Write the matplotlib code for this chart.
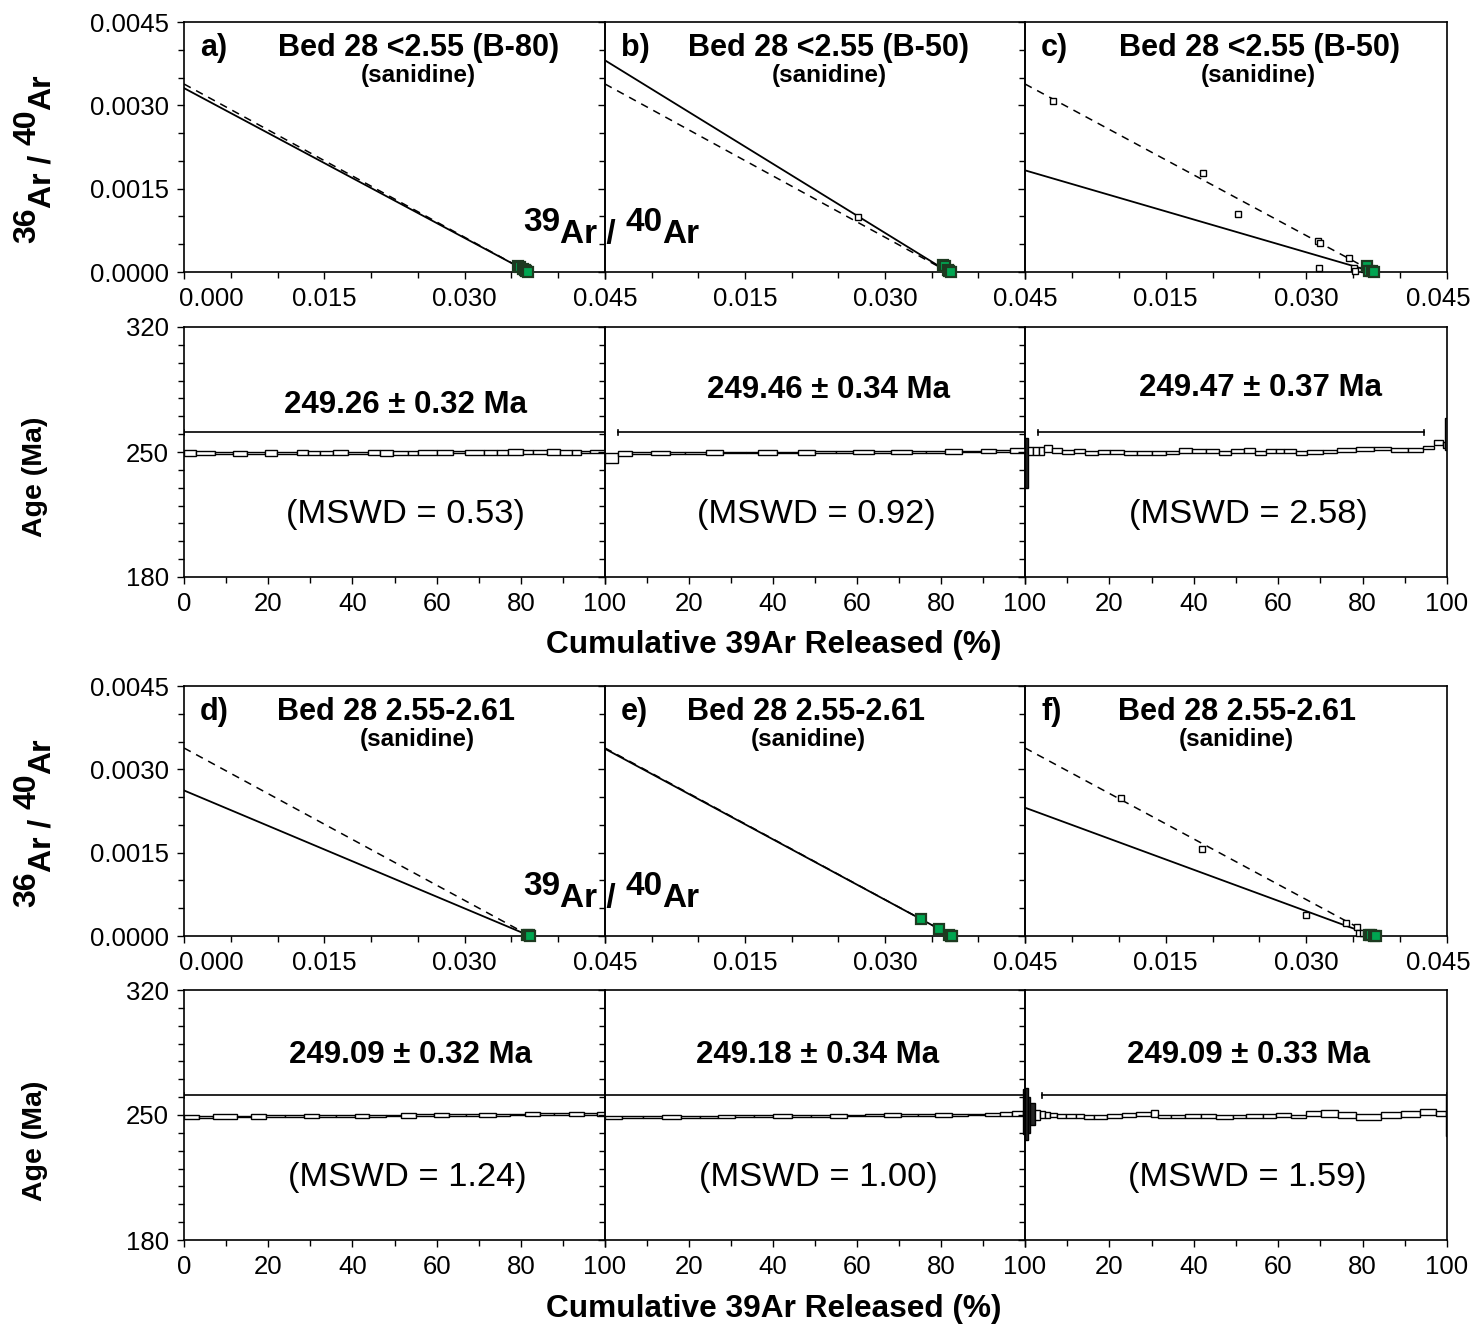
import matplotlib as mpl
import matplotlib.pyplot as plt
from matplotlib.patches import Rectangle
from matplotlib.text import Annotation
from matplotlib.ticker import MultipleLocator
from matplotlib.transforms import ScaledTranslation

mpl.rcParams['font.family'] = ['Liberation Sans', 'DejaVu Sans']

panel_tags = ['a)', 'b)', 'c)', 'd)', 'e)', 'f)']
sample_names = ['Bed 28 <2.55 (B-80)', 'Bed 28 <2.55 (B-50)', 'Bed 28 <2.55 (B-50)',
                'Bed 28 2.55-2.61', 'Bed 28 2.55-2.61', 'Bed 28 2.55-2.61']
mineral = '(sanidine)'

plateau_age = [249.26, 249.46, 249.47, 249.09, 249.18, 249.09]
plateau_err = [0.32, 0.34, 0.37, 0.32, 0.34, 0.33]
mswd = [0.53, 0.92, 2.58, 1.24, 1.00, 1.59]
plateau_start = [0.0, 3.1, 3.1, 0.0, 0.0, 4.0]
plateau_end = [100.0, 100.0, 94.5, 100.0, 100.0, 100.0]

# isochron fits: trapped 36Ar/40Ar intercept and 39Ar/40Ar intercept
trapped_36_40 = [0.00331, 0.00381, 0.00183, 0.00262, 0.00337, 0.00231]
rad_39_40 = [0.0368, 0.0368, 0.0372, 0.0370, 0.0372, 0.0372]
atm_36_40 = 1 / 295.5

# isochron points: green = plateau steps, open = excluded steps
green_x_a = [0.0357, 0.0359, 0.0362, 0.0364, 0.0366, 0.0368]
green_y_a = [0.00011, 0.00009, 0.00006, 0.00004, 0.00002, 0.0]
open_x_a, open_y_a = [], []

green_x_b = [0.0362, 0.0364, 0.0367, 0.0369, 0.0371]
green_y_b = [0.00013, 0.00010, 0.00003, 0.00001, 0.0]
open_x_b = [0.0271]
open_y_b = [0.00099]

green_x_c = [0.0365, 0.0367, 0.0370, 0.0372]
green_y_c = [0.0001, 0.00002, 0.00001, 0.0]
open_x_c = [0.00295, 0.01897, 0.02269, 0.0312, 0.03146, 0.03131, 0.03457, 0.0351, 0.0352, 0.0362]
open_y_c = [0.00308, 0.00179, 0.00104, 0.00055, 0.00052, 0.00008, 0.00025, 0.00008, 0.00002, 0.00005]

green_x_d = [0.0367, 0.0369, 0.0370]
green_y_d = [0.00002, 0.00001, 0.0]
open_x_d, open_y_d = [], []

green_x_e = [0.03386, 0.03574, 0.0369, 0.0371, 0.0372]
green_y_e = [0.0003, 0.00012, 0.00001, 0.0, 0.0]
open_x_e, open_y_e = [], []

green_x_f = [0.0367, 0.0369, 0.0372, 0.0374]
green_y_f = [0.00002, 0.00001, 0.0, 0.0]
open_x_f = [0.01028, 0.0189, 0.02997, 0.03422, 0.03536, 0.0356, 0.0360, 0.0364]
open_y_f = [0.00248, 0.00157, 0.00038, 0.00023, 0.00017, 0.00005, 0.00005, 0.00004]

# age spectra: cumulative 39Ar step edges (%), step ages and 2 sigma (Ma)
edges_a = [0, 2.8, 7.4, 11.7, 14.9, 19.2, 22.0, 26.8, 29.5, 32.3, 35.5, 38.9, 43.8, 46.6,
           49.7, 53.3, 55.7, 60.0, 64.0, 66.7, 71.3, 74.3, 77.0, 80.6, 83.0, 86.2, 89.3,
           92.1, 94.3, 96.4, 100]
ages_a = [249.2, 249.3, 249.4, 249.4, 249.5, 249.5, 249.5, 249.5, 249.5, 249.5, 249.6,
          249.5, 249.6, 249.6, 249.6, 249.6, 249.8, 249.8, 249.8, 249.7, 249.7, 249.7,
          249.9, 249.9, 249.9, 250.0, 250.0, 250.0, 250.1, 250.2]
errs_a = [1.7, 1.2, 0.5, 1.4, 0.5, 1.5, 0.5, 1.4, 1.3, 1.3, 1.4, 0.5, 1.4, 1.7, 1.1,
          1.1, 1.4, 1.2, 0.5, 1.3, 1.3, 1.3, 1.6, 1.1, 1.1, 1.6, 1.4, 1.4, 0.5, 0.9]

edges_b = [0, 3.1, 6.5, 11.0, 15.5, 19.0, 24.0, 28.0, 33.5, 36.5, 41.0, 46.0, 50.0, 55.0,
           59.0, 64.0, 68.0, 73.0, 76.5, 81.0, 85.0, 89.5, 93.0, 96.5, 100]
ages_b = [246.5, 249.3, 249.4, 249.5, 249.5, 249.6, 249.6, 249.7, 249.7, 249.8, 249.7,
          249.8, 249.9, 249.9, 249.9, 250.0, 250.0, 250.1, 250.1, 250.2, 250.3, 250.4,
          250.6, 250.8]
errs_b = [2.8, 1.5, 0.5, 1.3, 0.5, 0.5, 1.3, 0.5, 0.5, 1.2, 0.5, 1.3, 0.5, 0.5, 1.2,
          0.5, 1.2, 0.5, 0.5, 1.2, 0.5, 1.2, 0.8, 1.3]

edges_c = [0, 0.8, 2.0, 3.2, 4.4, 6.3, 8.7, 11.5, 14.3, 17.4, 20.2, 23.4, 26.5, 30.1, 33.3,
           36.4, 39.6, 42.8, 45.9, 48.7, 51.9, 54.6, 57.0, 59.4, 61.4, 64.1, 66.9, 70.5,
           74.0, 78.4, 82.7, 86.7, 90.7, 94.2, 97.0, 99.0, 99.6, 100]
ages_c = [243.6, 250.7, 250.7, 250.7, 251.8, 250.8, 250.1, 250.3, 249.5, 250.0, 250.1,
          249.3, 249.3, 249.3, 249.8, 250.8, 250.6, 250.3, 249.5, 250.4, 250.8, 249.5,
          250.6, 250.6, 250.6, 249.5, 250.0, 250.2, 250.9, 251.8, 252.0, 251.1, 251.1,
          252.6, 255.3, 253.9, 260.0]
errs_c = [14.0, 2.3, 2.3, 2.3, 2.0, 1.2, 1.3, 1.1, 1.2, 1.1, 1.3, 1.2, 1.2, 1.2, 0.9,
          1.2, 1.0, 1.1, 1.2, 1.2, 1.2, 1.2, 1.0, 1.0, 1.0, 1.2, 1.1, 0.9, 1.1, 1.1,
          0.9, 0.9, 0.9, 0.9, 1.4, 1.9, 9.0]

edges_d = [0, 3.5, 7.0, 12.5, 16.0, 19.5, 24.0, 28.5, 32.0, 36.0, 40.5, 44.0, 48.0, 51.5,
           55.0, 59.5, 63.0, 67.0, 70.0, 74.0, 77.5, 81.0, 84.5, 88.0, 91.5, 95.0, 98.0, 100]
ages_d = [249.0, 249.0, 249.1, 249.2, 249.2, 249.3, 249.3, 249.4, 249.4, 249.5, 249.5,
          249.6, 249.7, 249.8, 249.9, 250.0, 250.1, 250.1, 250.2, 250.2, 250.3, 250.4,
          250.4, 250.5, 250.6, 250.7, 250.7]
errs_d = [1.2, 0.5, 1.2, 0.5, 1.2, 0.5, 0.5, 1.2, 0.5, 0.5, 1.2, 0.5, 0.5, 1.2, 0.5,
          1.2, 0.5, 0.5, 1.2, 0.5, 0.5, 1.2, 0.5, 0.5, 1.2, 0.5, 1.0]

edges_e = [0, 4.0, 9.0, 13.5, 18.0, 22.5, 27.0, 31.0, 35.5, 40.0, 44.5, 49.0, 53.5, 57.5,
           62.0, 66.5, 70.5, 74.5, 78.5, 82.5, 86.5, 90.5, 94.0, 97.0, 99.5, 100]
ages_e = [248.7, 248.8, 248.9, 249.0, 249.1, 249.1, 249.2, 249.3, 249.4, 249.4, 249.5,
          249.6, 249.6, 249.7, 249.8, 249.9, 249.9, 250.0, 250.1, 250.2, 250.3, 250.4,
          250.5, 250.8, 251.7]
errs_e = [1.0, 0.5, 0.5, 1.0, 0.5, 0.5, 1.0, 0.5, 0.5, 1.0, 0.5, 0.5, 1.0, 0.5, 0.5,
          1.0, 0.5, 0.5, 1.0, 0.5, 0.5, 1.0, 1.2, 1.5, 12.6]

edges_f = [0, 0.6, 1.2, 2.4, 3.6, 4.8, 6.0, 7.6, 9.6, 12.0, 14.0, 16.4, 19.5, 23.0, 26.2,
           29.8, 31.4, 34.6, 37.8, 41.7, 45.3, 49.2, 52.4, 56.4, 59.5, 63.1, 66.6, 70.2,
           74.2, 78.5, 84.4, 89.2, 93.5, 97.5, 99.8, 100]
ages_f = [250.5, 250.0, 250.5, 250.0, 250.5, 250.1, 250.0, 249.4, 249.4, 249.4, 248.8,
          248.8, 249.5, 250.0, 250.5, 250.9, 249.1, 249.1, 249.4, 249.4, 248.8, 249.1,
          249.4, 249.4, 250.0, 249.1, 250.9, 250.9, 250.0, 248.8, 250.0, 250.5, 251.8,
          250.9, 250.0]
errs_f = [14.4, 10.0, 6.0, 3.0, 2.0, 1.5, 1.2, 1.0, 1.0, 1.0, 1.0, 1.0, 1.0, 1.0, 1.0,
          2.0, 1.0, 1.0, 1.0, 1.0, 1.2, 1.0, 1.0, 1.0, 1.0, 1.0, 1.5, 1.8, 1.5, 1.8,
          1.5, 1.8, 1.8, 1.5, 12.0]

green_x = [green_x_a, green_x_b, green_x_c, green_x_d, green_x_e, green_x_f]
green_y = [green_y_a, green_y_b, green_y_c, green_y_d, green_y_e, green_y_f]
open_x = [open_x_a, open_x_b, open_x_c, open_x_d, open_x_e, open_x_f]
open_y = [open_y_a, open_y_b, open_y_c, open_y_d, open_y_e, open_y_f]
step_edges = [edges_a, edges_b, edges_c, edges_d, edges_e, edges_f]
step_ages = [ages_a, ages_b, ages_c, ages_d, ages_e, ages_f]
step_errs = [errs_a, errs_b, errs_c, errs_d, errs_e, errs_f]

bar_age = 261.0          # height of the plateau marker bar
W, H = 1471, 1327

# layout in pixels
col_left = [184, 605, 1025]
col_width = [421, 420, 422]
iso_top = [22, 686]
age_top = [327, 990]
row_h = 250

# text placement in axes fractions
title_x = [0.558, 0.533, 0.555, 0.504, 0.478, 0.503]
mineral_x = [0.557, 0.533, 0.553, 0.553, 0.483, 0.500]
age_txt_x = [0.527, 0.531, 0.557, 0.537, 0.506, 0.529]
age_txt_y = [0.688, 0.748, 0.756, 0.740, 0.740, 0.740]
mswd_x = [0.527, 0.504, 0.529, 0.530, 0.508, 0.527]

fig = plt.figure(figsize=(W / 100, H / 100), dpi=100)


def make_axes(px_left, px_top, px_w):
    ax = fig.add_axes([px_left / W, 1 - (px_top + row_h) / H, px_w / W, row_h / H])
    ax.patch.set_visible(False)
    return ax


def style_axes(ax):
    for sp in ax.spines.values():
        sp.set_linewidth(1.2)
    ax.tick_params(which='both', direction='out', width=1.0, labelsize=18.5,
                   top=False, right=False)
    ax.tick_params(which='major', length=5, pad=6)
    ax.tick_params(which='minor', length=4)


def nudge(label, dx_px):
    label.set_transform(label.get_transform() +
                        ScaledTranslation(dx_px / 100, 0, fig.dpi_scale_trans))


def draw_isochron(ax, k, col):
    ax.set_xlim(0, 0.045)
    ax.set_ylim(0, 0.0045)
    ax.plot([0, rad_39_40[k]], [trapped_36_40[k], 0], color='black', lw=1.3)
    ax.plot([0, rad_39_40[k]], [atm_36_40, 0], color='black', lw=1.1, dashes=(5, 4))
    ax.plot(open_x[k], open_y[k], 's', ms=5, mfc='white', mec='black', mew=1.0,
            ls='none', clip_on=False, zorder=4)
    ax.plot(green_x[k], green_y[k], 's', ms=7, mfc='#00a651', mec='#1d3a20', mew=1.6,
            ls='none', clip_on=False, zorder=5)
    style_axes(ax)
    ax.set_xticks([0, 0.015, 0.030, 0.045])
    ax.set_xticklabels(['' if col > 0 else '0.000', '0.015', '0.030', '0.045'])
    ax.xaxis.set_minor_locator(MultipleLocator(0.005))
    ax.set_yticks([0, 0.0015, 0.0030, 0.0045])
    ax.yaxis.set_minor_locator(MultipleLocator(0.0005))
    xlabels = ax.get_xticklabels()
    if col == 0:
        ax.set_yticklabels(['0.0000', '0.0015', '0.0030', '0.0045'])
        nudge(xlabels[0], 27)
    else:
        ax.set_yticklabels([])
    if col == 2:
        nudge(xlabels[-1], -9)
    ax.text(0.038, 0.896, panel_tags[k], transform=ax.transAxes, fontsize=22,
            fontweight='bold', ha='left', va='center')
    ax.text(title_x[k], 0.896, sample_names[k], transform=ax.transAxes, fontsize=22,
            fontweight='bold', ha='center', va='center')
    ax.text(mineral_x[k], 0.786, mineral, transform=ax.transAxes, fontsize=17.5,
            fontweight='bold', ha='center', va='center')


def draw_spectrum(ax, k, col):
    ax.set_xlim(0, 100)
    ax.set_ylim(180, 320)
    edges, ages, errs = step_edges[k], step_ages[k], step_errs[k]
    for i in range(len(ages)):
        dark = errs[i] > 3.5
        ax.add_patch(Rectangle((edges[i], ages[i] - errs[i]), edges[i + 1] - edges[i],
                               2 * errs[i], facecolor='0.15' if dark else 'white',
                               edgecolor='black', lw=1.0, zorder=3))
    p0, p1 = plateau_start[k], plateau_end[k]
    ax.plot([p0, p1], [bar_age, bar_age], color='black', lw=1.2, zorder=3)
    for p in (p0, p1):
        ax.plot([p, p], [bar_age - 1.4, bar_age + 1.4], color='black', lw=1.2, zorder=3)
    style_axes(ax)
    ax.set_xticks([0, 20, 40, 60, 80, 100])
    ax.set_xticklabels(['' if col > 0 else '0', '20', '40', '60', '80', '100'])
    ax.xaxis.set_minor_locator(MultipleLocator(10))
    ax.set_yticks([180, 250, 320])
    ax.yaxis.set_minor_locator(MultipleLocator(10))
    if col > 0:
        ax.set_yticklabels([])
    ax.text(age_txt_x[k], age_txt_y[k],
            '%.2f \u00b1 %.2f Ma' % (plateau_age[k], plateau_err[k]),
            transform=ax.transAxes, fontsize=22.5, fontweight='bold', ha='center',
            va='center')
    ax.text(mswd_x[k], 0.250, '(MSWD = %.2f)' % mswd[k], transform=ax.transAxes,
            fontsize=24.8, ha='center', va='center')


def chain(prev, s, xy, offset, size, rotation=0):
    # next piece of a label, placed against the box of the previous piece
    a = Annotation(s, xy=xy, xycoords=prev, xytext=offset, textcoords='offset points',
                   rotation=rotation, fontsize=size, fontweight='bold', ha='left',
                   va='bottom', annotation_clip=False)
    fig.add_artist(a)
    return a


for row in range(2):
    for col in range(3):
        k = row * 3 + col
        ax_iso = make_axes(col_left[col], iso_top[row], col_width[col])
        draw_isochron(ax_iso, k, col)
        ax_age = make_axes(col_left[col], age_top[row], col_width[col])
        draw_spectrum(ax_age, k, col)

    dy = iso_top[row] - iso_top[0]
    fig.text(774 / W, 1 - (645 + dy) / H, 'Cumulative 39Ar Released (%)', fontsize=22.8,
             fontweight='bold', ha='center', va='center')
    fig.text(35 / W, 1 - (477 + dy) / H, 'Age (Ma)', rotation=90, fontsize=20.5,
             fontweight='bold', ha='center', va='center')

    # 36Ar / 40Ar axis title, mass numbers raised at full size
    t = fig.text(12 / W, 1 - (243 + dy) / H, '36', rotation=90, fontsize=23,
                 fontweight='bold', ha='left', va='bottom')
    for s, dx in [('Ar / ', 11.0), ('40', -11.0), ('Ar', 11.0)]:
        t = chain(t, s, (0, 1), (dx, 0), 23, rotation=90)

    # 39Ar / 40Ar axis title of the isochrons
    t = fig.text(523 / W, 1 - (231 + dy) / H, '39', fontsize=24, fontweight='bold',
                 ha='left', va='baseline')
    for s, dv in [('Ar / ', -8.5), ('40', 8.5), ('Ar', -8.5)]:
        t = chain(t, s, (1, 0), (0, dv), 24)

fig.savefig('out.png', dpi=100)
